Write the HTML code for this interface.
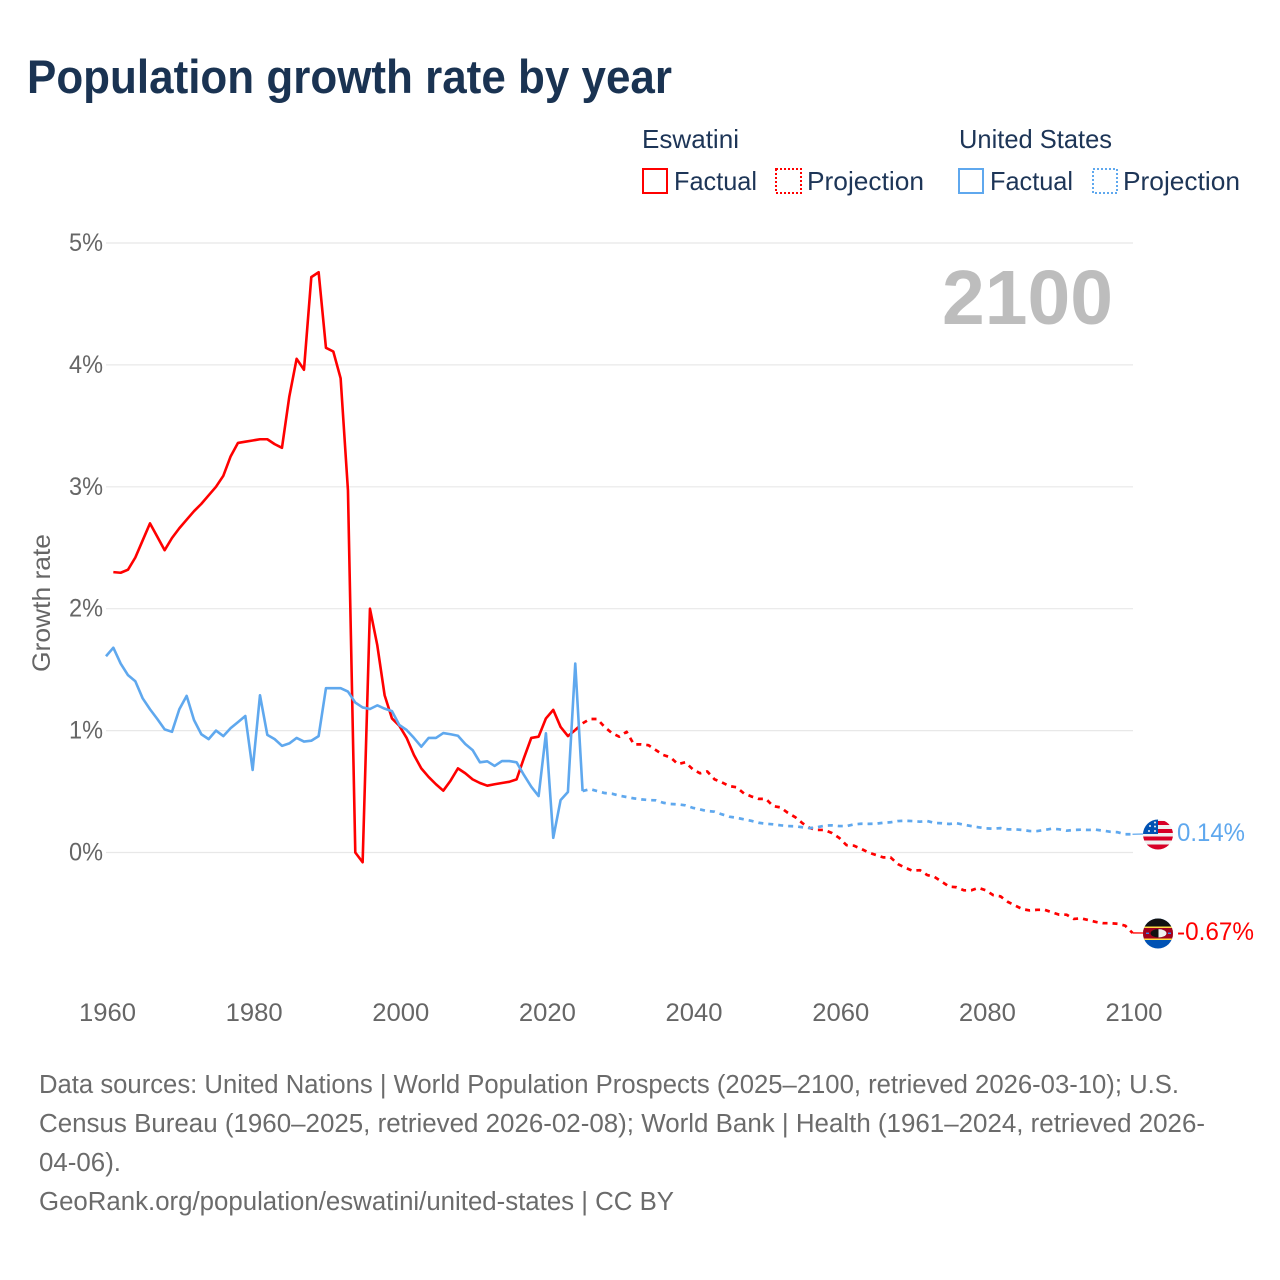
<!DOCTYPE html>
<html lang="en">
<head>
<meta charset="utf-8">
<title>Population growth rate by year</title>
<style>
html,body{margin:0;padding:0;background:#fff;}
#chart{display:block;width:1280px;height:1280px;font-family:"Liberation Sans",sans-serif;}
.legend-text{font-size:26px;fill:#1d3557;}
.tick{font-size:25px;fill:#666;}
.foot{font-size:25.5px;fill:#6b6b6b;}
</style>
</head>
<body>
<svg id="chart" xmlns="http://www.w3.org/2000/svg" width="1280" height="1280" viewBox="0 0 1280 1280">
  <rect x="0" y="0" width="1280" height="1280" fill="#fff"/>
  <text x="27" y="93" font-size="47" font-weight="700" fill="#1a3352" textLength="645" lengthAdjust="spacingAndGlyphs">Population growth rate by year</text>

  <g>
    <text class="legend-text" x="642" y="148" textLength="97" lengthAdjust="spacingAndGlyphs">Eswatini</text>
    <rect x="643" y="169" width="24" height="24" fill="none" stroke="#ff0000" stroke-width="2"/>
    <text class="legend-text" x="674" y="190" textLength="83" lengthAdjust="spacingAndGlyphs">Factual</text>
    <rect x="776" y="169" width="25" height="24" fill="none" stroke="#ff0000" stroke-width="2" stroke-dasharray="2 2"/>
    <text class="legend-text" x="807" y="190" textLength="117" lengthAdjust="spacingAndGlyphs">Projection</text>

    <text class="legend-text" x="959" y="148" textLength="153" lengthAdjust="spacingAndGlyphs">United States</text>
    <rect x="959" y="169" width="24" height="24" fill="none" stroke="#5fa8ee" stroke-width="2"/>
    <text class="legend-text" x="990" y="190" textLength="83" lengthAdjust="spacingAndGlyphs">Factual</text>
    <rect x="1093" y="169" width="24" height="24" fill="none" stroke="#5fa8ee" stroke-width="2" stroke-dasharray="2 2"/>
    <text class="legend-text" x="1123" y="190" textLength="117" lengthAdjust="spacingAndGlyphs">Projection</text>
  </g>

  <g id="grid"></g>
  <g id="yticks"></g>
  <g id="xticks"></g>

  <text transform="translate(50,603) rotate(-90)" text-anchor="middle" font-size="25" fill="#666" textLength="138" lengthAdjust="spacingAndGlyphs">Growth rate</text>
  <text x="1113" y="324" text-anchor="end" font-size="77" font-weight="700" fill="#bdbdbd" textLength="171" lengthAdjust="spacingAndGlyphs">2100</text>

  <g id="series"></g>

  <defs>
    <clipPath id="clip-us"><circle cx="1158" cy="834.5" r="15"/></clipPath>
    <clipPath id="clip-sz"><circle cx="1158" cy="933.5" r="15"/></clipPath>
  </defs>
  <g clip-path="url(#clip-us)">
    <rect x="1143" y="819" width="30" height="31" fill="#f0f0f0"/>
    <rect x="1156" y="821" width="17" height="4" fill="#d80027"/>
    <rect x="1156" y="829" width="17" height="4" fill="#d80027"/>
    <rect x="1143" y="836.5" width="30" height="4" fill="#d80027"/>
    <rect x="1143" y="844.5" width="30" height="6" fill="#d80027"/>
    <rect x="1143" y="819" width="15" height="15" fill="#0052b4"/>
    <circle cx="1155" cy="822.5" r="1" fill="#f0f0f0"/>
    <circle cx="1150" cy="826" r="1" fill="#f0f0f0"/>
    <circle cx="1155" cy="826.5" r="1" fill="#f0f0f0"/>
    <circle cx="1149" cy="831" r="1" fill="#f0f0f0"/>
    <circle cx="1155" cy="831" r="1" fill="#f0f0f0"/>
  </g>
  <g clip-path="url(#clip-sz)">
    <rect x="1143" y="918" width="31" height="31" fill="#0052b4"/>
    <rect x="1143" y="918" width="31" height="8.5" fill="#111"/>
    <rect x="1143" y="926.5" width="31" height="13.5" fill="#ffda44"/>
    <rect x="1143" y="928" width="31" height="10.5" fill="#a2001d"/>
    <ellipse cx="1158.5" cy="933.3" rx="8" ry="4.2" fill="#111"/>
    <path d="M1158.5 929.1 A8 4.2 0 0 1 1158.5 937.5Z" fill="#f0f0f0"/>
    <rect x="1146" y="932.6" width="3" height="1.4" fill="#338af3"/>
    <rect x="1168" y="932.6" width="3" height="1.4" fill="#338af3"/>
  </g>

  <text x="1177" y="841" font-size="25" fill="#5fa8ee" textLength="68" lengthAdjust="spacingAndGlyphs">0.14%</text>
  <text x="1177" y="940" font-size="25" fill="#ff0000" textLength="77" lengthAdjust="spacingAndGlyphs">-0.67%</text>

  <g>
    <text class="foot" x="39" y="1093" textLength="1140" lengthAdjust="spacingAndGlyphs">Data sources: United Nations | World Population Prospects (2025–2100, retrieved 2026-03-10); U.S.</text>
    <text class="foot" x="39" y="1132" textLength="1166" lengthAdjust="spacingAndGlyphs">Census Bureau (1960–2025, retrieved 2026-02-08); World Bank | Health (1961–2024, retrieved 2026-</text>
    <text class="foot" x="39" y="1171" textLength="82" lengthAdjust="spacingAndGlyphs">04-06).</text>
    <text class="foot" x="39" y="1210" textLength="635" lengthAdjust="spacingAndGlyphs">GeoRank.org/population/eswatini/united-states | CC BY</text>
  </g>
</svg>
<script>
const yTickValues = [0, 1, 2, 3, 4, 5];
const xTickYears = [1960, 1980, 2000, 2020, 2040, 2060, 2080, 2100];

const eswatiniFactualStart = 1961;
const eswatiniFactual = [2.30,2.295,2.32,2.42,2.56,2.70,2.59,2.48,2.58,2.66,2.73,2.80,2.86,2.93,3.00,3.09,3.25,3.36,3.37,3.38,3.39,3.39,3.35,3.32,3.74,4.05,3.96,4.72,4.76,4.14,4.11,3.89,2.97,0.0,-0.08,2.0,1.70,1.29,1.10,1.04,0.94,0.80,0.69,0.62,0.56,0.507,0.59,0.69,0.65,0.60,0.57,0.548,0.56,0.57,0.58,0.60,0.775,0.94,0.95,1.10,1.17,1.03,0.955,1.005];
const eswatiniProjectionStart = 2024;
const eswatiniProjection = [1.005,1.06,1.095,1.095,1.03,0.98,0.95,0.99,0.887,0.887,0.88,0.84,0.80,0.78,0.725,0.74,0.685,0.65,0.665,0.60,0.575,0.545,0.535,0.485,0.46,0.44,0.44,0.38,0.37,0.325,0.29,0.24,0.20,0.185,0.185,0.16,0.12,0.06,0.056,0.03,0.0,-0.02,-0.04,-0.04,-0.095,-0.125,-0.15,-0.145,-0.185,-0.20,-0.24,-0.28,-0.285,-0.31,-0.31,-0.29,-0.31,-0.35,-0.36,-0.405,-0.435,-0.465,-0.475,-0.47,-0.47,-0.49,-0.51,-0.51,-0.545,-0.54,-0.555,-0.57,-0.58,-0.58,-0.585,-0.60,-0.66];

const usFactualStart = 1960;
const usFactual = [1.61,1.68,1.55,1.455,1.405,1.265,1.175,1.095,1.01,0.99,1.175,1.285,1.087,0.97,0.93,1.0,0.955,1.02,1.07,1.12,0.677,1.29,0.965,0.93,0.875,0.895,0.94,0.91,0.917,0.955,1.348,1.348,1.348,1.32,1.23,1.19,1.177,1.207,1.18,1.16,1.046,1.005,0.94,0.868,0.94,0.94,0.98,0.97,0.958,0.89,0.84,0.74,0.748,0.71,0.75,0.75,0.74,0.636,0.54,0.463,0.978,0.12,0.43,0.496,1.55,0.504];
const usProjectionStart = 2025;
const usProjection = [0.504,0.52,0.504,0.488,0.482,0.466,0.455,0.444,0.436,0.43,0.428,0.408,0.398,0.395,0.387,0.367,0.354,0.34,0.335,0.313,0.294,0.285,0.272,0.26,0.244,0.236,0.231,0.223,0.217,0.215,0.207,0.20,0.207,0.22,0.223,0.217,0.217,0.231,0.236,0.235,0.236,0.244,0.248,0.258,0.26,0.258,0.253,0.258,0.242,0.24,0.234,0.24,0.228,0.217,0.207,0.198,0.195,0.20,0.19,0.19,0.185,0.176,0.176,0.185,0.195,0.19,0.179,0.185,0.187,0.185,0.187,0.179,0.17,0.166,0.15,0.15];

const SVG_NS = 'http://www.w3.org/2000/svg';
function xScale(year) { return 106 + (year - 1960) * (1026.5 / 140); }
function yScale(pct) { return 852.5 - pct * 121.9; }
function linePath(startYear, values) {
  return values.map(function (v, i) {
    return (i ? 'L' : 'M') + xScale(startYear + i).toFixed(2) + ' ' + yScale(v).toFixed(2);
  }).join(' ');
}
function addLine(parent, startYear, values, color, dashed) {
  const p = document.createElementNS(SVG_NS, 'path');
  p.setAttribute('d', linePath(startYear, values));
  p.setAttribute('fill', 'none');
  p.setAttribute('stroke', color);
  p.setAttribute('stroke-width', dashed ? '2.7' : '2.6');
  p.setAttribute('stroke-linejoin', 'round');
  if (dashed) p.setAttribute('stroke-dasharray', '5 5');
  parent.appendChild(p);
  return p;
}
function addConnector(parent, values, targetY, color) {
  const c = document.createElementNS(SVG_NS, 'line');
  c.setAttribute('x1', xScale(2100));
  c.setAttribute('y1', yScale(values[values.length - 1]));
  c.setAttribute('x2', 1143);
  c.setAttribute('y2', targetY);
  c.setAttribute('stroke', color);
  c.setAttribute('stroke-width', '1.3');
  parent.appendChild(c);
  return c;
}

const gridG = document.getElementById('grid');
const yG = document.getElementById('yticks');
yTickValues.forEach(function (v) {
  const l = document.createElementNS(SVG_NS, 'line');
  l.setAttribute('x1', 106);
  l.setAttribute('x2', 1133);
  l.setAttribute('y1', yScale(v));
  l.setAttribute('y2', yScale(v));
  l.setAttribute('stroke', '#e8e8e8');
  l.setAttribute('stroke-width', '1.2');
  
  
  gridG.appendChild(l);
  const t = document.createElementNS(SVG_NS, 'text');
  t.setAttribute('x', 69);
  t.setAttribute('y', yScale(v) + 8);
  t.setAttribute('textLength', '34');
  t.setAttribute('lengthAdjust', 'spacingAndGlyphs');
  t.setAttribute('class', 'tick');
  
  
  t.textContent = v + '%';
  yG.appendChild(t);
});

const xG = document.getElementById('xticks');
xTickYears.forEach(function (y) {
  const t = document.createElementNS(SVG_NS, 'text');
  t.setAttribute('x', xScale(y) - 27);
  t.setAttribute('y', 1021);
  t.setAttribute('textLength', '57');
  t.setAttribute('lengthAdjust', 'spacingAndGlyphs');
  t.setAttribute('class', 'tick');
  
  
  t.textContent = y;
  xG.appendChild(t);
});

const seriesG = document.getElementById('series');
const RED = '#ff0000';
const BLUE = '#5fa8ee';
const esF = addLine(seriesG, eswatiniFactualStart, eswatiniFactual, RED, false);


const esP = addLine(seriesG, eswatiniProjectionStart, eswatiniProjection, RED, true);


const usF = addLine(seriesG, usFactualStart, usFactual, BLUE, false);


const usP = addLine(seriesG, usProjectionStart, usProjection, BLUE, true);


const esC = addConnector(seriesG, eswatiniProjection, 933, RED);


const usC = addConnector(seriesG, usProjection, 834, BLUE);


</script>
</body>
</html>
